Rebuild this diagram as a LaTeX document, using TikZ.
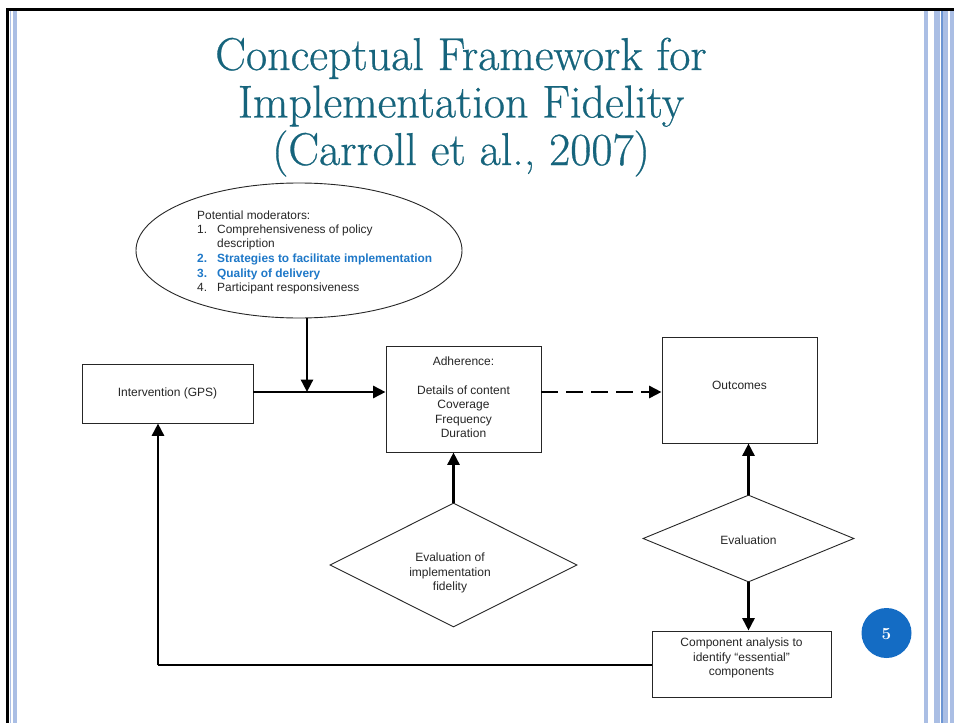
\documentclass[tikz,border=0pt]{standalone}
\usepackage{fontspec}
\newfontfamily\diagfont{Liberation Sans}
\newfontfamily\titlefont{Latin Modern Roman}[FakeBold=0.6]
\usetikzlibrary{arrows.meta,shapes.geometric,calc}
\definecolor{titleteal}{RGB}{22,100,124}
\definecolor{modblue}{RGB}{30,120,200}
\definecolor{circblue}{RGB}{20,108,196}
\definecolor{stripe}{RGB}{170,190,228}
\definecolor{stripedark}{RGB}{107,149,211}
\tikzset{
  box/.style={draw=black!85, line width=0.9pt, rectangle, inner sep=0pt},
  dia/.style={draw=black!85, line width=0.9pt, diamond, inner sep=0pt},
  lbl/.style={font=\diagfont\fontsize{12}{14.5}\selectfont, align=center, inner sep=0pt, text=black!85},
  modtxt/.style={font=\diagfont\fontsize{11.9}{14}\selectfont, anchor=base west, inner sep=0pt, text=black!85},
  modhi/.style={modtxt, text=modblue, font=\diagfont\bfseries\fontsize{11.9}{14}\selectfont},
  conn/.style={line width=2.8pt, -{Triangle[length=12.5pt,width=12pt]}},
  ttl/.style={font=\titlefont\fontsize{46}{50}\selectfont, text=titleteal, inner sep=0pt, anchor=base}
}
\begin{document}
\begin{tikzpicture}[x=1pt,y=-1pt]
\useasboundingbox (0,0) rectangle (954,723);
% slide frame
\fill[white] (0,0) rectangle (954,723);
\fill[black] (6,8) rectangle (954,11);
\fill[black] (6,8) rectangle (8.5,723);
\fill[stripe] (10,11) rectangle (11.2,723);
\fill[stripe] (13,11) rectangle (17,723);
\fill[stripe] (924,11) rectangle (928,723);
\fill[stripe] (934,11) rectangle (940,723);
\fill[stripedark] (941,11) rectangle (942.5,723);
\fill[stripe] (943,11) rectangle (948,723);
\fill[stripe] (950,11) rectangle (954,723);
% title
\node[ttl] (t1) at (461,70) {Conceptual Framework for};
\node[ttl] (t2) at (461,117.5) {Implementation Fidelity};
\node[ttl] (t3) at (461,165) {(Carroll et al., 2007)};
% ellipse of moderators
\node[draw=black!85, line width=0.9pt, ellipse, minimum width=326pt, minimum height=135pt, inner sep=0pt] (ell) at (299,250.5) {};
\node[modtxt] (m0) at (197,219) {Potential moderators:};
\node[modtxt] (m1n) at (197,233) {1.};
\node[modtxt] (m1) at (217,233) {Comprehensiveness of policy};
\node[modtxt] (m1b) at (217,247) {description};
\node[modhi] (m2n) at (197,262) {2.};
\node[modhi] (m2) at (217,262) {Strategies to facilitate implementation};
\node[modhi] (m3n) at (197,277) {3.};
\node[modhi] (m3) at (217,277) {Quality of delivery};
\node[modtxt] (m4n) at (197,291) {4.};
\node[modtxt] (m4) at (217,291) {Participant responsiveness};
% boxes
\node[box, minimum width=171pt, minimum height=59pt] (intv) at (167.5,393.5) {};
\node[lbl] (intvt) at (167.5,393) {Intervention (GPS)};
\node[box, minimum width=155pt, minimum height=106pt] (adh) at (463.5,399) {};
\node[lbl] (adht) at (463.5,397) {Adherence:\\[14.5pt]Details of content\\Coverage\\Frequency\\Duration};
\node[box, minimum width=155pt, minimum height=106pt] (out) at (739.5,390) {};
\node[lbl] (outt) at (739.5,385) {Outcomes};
\node[box, minimum width=179pt, minimum height=66pt] (comp) at (741.5,664) {};
\node[lbl] (compt) at (741.5,658) {Component analysis to\\identify “essential”\\components};
% diamonds
\node[dia, minimum width=247pt, minimum height=124pt] (d1) at (453.5,565) {};
\node[lbl] (d1t) at (450,573) {Evaluation of\\implementation\\fidelity};
\node[dia, minimum width=211pt, minimum height=87pt] (d2) at (748.5,538.5) {};
\node[lbl] (d2t) at (748.5,540) {Evaluation};
% page number
\node[circle, fill=circblue, minimum size=50pt, inner sep=0pt] (pg) at (886.5,633) {};
\node[text=white, font=\bfseries\fontsize{17}{17}\selectfont, inner sep=0pt] (pgt) at (886.5,634) {5};
% connectors
\coordinate (j) at (307,392);
\coordinate (fb) at (158,665);
\draw[conn] (j |- ell.south) -- (j);
\draw[conn] (intv.east |- j) -- (adh.west |- j);
\draw[conn, dash pattern=on 17pt off 8pt] (adh.east |- j) -- (out.west |- j);
\draw[conn] (d1.north) -- (d1.north |- adh.south);
\draw[conn] (d2.north) -- (d2.north |- out.south);
\draw[conn] (d2.south) -- (d2.south |- comp.north);
\draw[line width=2.8pt] (comp.west |- fb) -- (fb);
\draw[conn] (fb) -- (fb |- intv.south);
\end{tikzpicture}
\end{document}
